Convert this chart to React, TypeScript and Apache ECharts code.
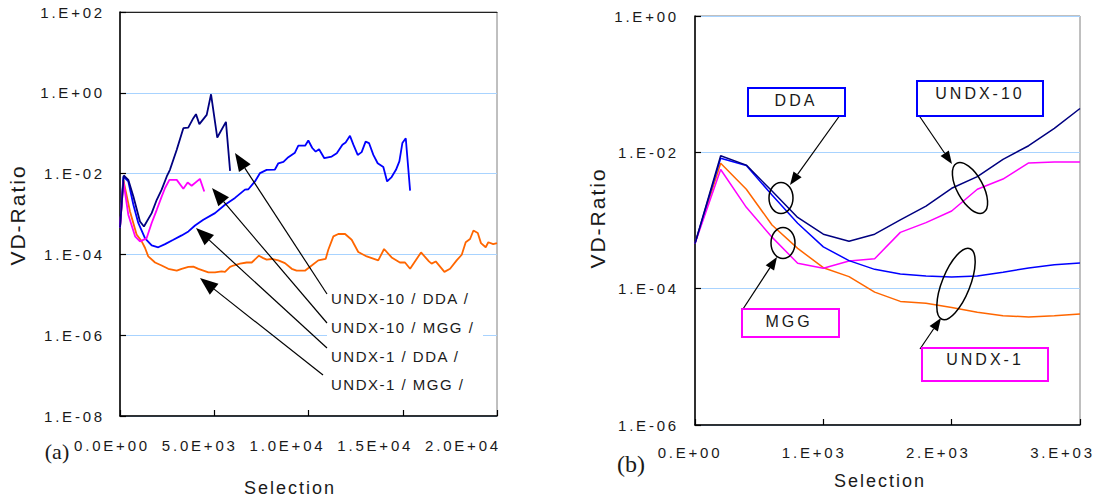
import React, { useEffect, useRef } from 'react';
import * as echarts from 'echarts';

// ---------- Panel (a) data: Selection vs VD-Ratio ----------
const aU10DdaX = [0, 200, 440, 710, 1060, 1270, 1680, 1950, 2210, 2480, 2650, 3010, 3360, 3620, 3890, 4030, 4210, 4600, 4830, 5160, 5620, 5840];
const aU10DdaY = [4.6e-4, 9.0e-3, 7.0e-3, 2.7e-3, 6.5e-4, 4.9e-4, 1.05e-3, 2.25e-3, 4.0e-3, 8.5e-3, 1.24e-2, 3.9e-2, 0.133, 0.137, 0.236, 0.296, 0.168, 0.284, 0.92, 0.078, 0.191, 1.17e-2];

const aU10MggX = [0, 180, 440, 800, 1060, 1410, 1680, 1950, 2210, 2390, 2620, 3010, 3360, 3590, 3800, 4240, 4470];
const aU10MggY = [4.6e-4, 6.4e-3, 9.6e-4, 2.8e-4, 2.1e-4, 2.5e-4, 6.0e-4, 1.27e-3, 2.7e-3, 4.4e-3, 7.0e-3, 7.0e-3, 4.2e-3, 6.0e-3, 5.0e-3, 7.4e-3, 3.6e-3];

const aU1DdaX = [0, 180, 440, 710, 970, 1330, 1680, 2030, 2390, 2830, 3270, 3630, 3980, 4420, 5040, 5570, 6100, 6630, 6810, 7160, 7430, 7780, 8220, 8400, 8670, 8930, 9280, 9460, 9820, 9990, 10200, 10380, 10560, 10840, 11230, 11500, 11800, 11970, 12200, 12380, 12610, 12820, 13030, 13210, 13440, 13670, 13970, 14170, 14410, 14640, 14820, 14980, 15160, 15390];
const aU1DdaY = [4.6e-4, 8.5e-3, 6.4e-3, 1.7e-3, 6.0e-4, 2.5e-4, 1.67e-4, 1.5e-4, 1.8e-4, 2.3e-4, 2.95e-4, 3.7e-4, 5.2e-4, 7.2e-4, 1.05e-3, 1.7e-3, 2.5e-3, 4.0e-3, 4.1e-3, 6.4e-3, 1.03e-2, 1.24e-2, 1.26e-2, 1.8e-2, 1.95e-2, 2.55e-2, 3.3e-2, 4.9e-2, 4.9e-2, 6.6e-2, 4.3e-2, 3.5e-2, 4.0e-2, 2.4e-2, 2.65e-2, 3.2e-2, 5.2e-2, 5.9e-2, 8.6e-2, 5.2e-2, 2.9e-2, 3.4e-2, 6.2e-2, 5.7e-2, 2.9e-2, 1.8e-2, 1.45e-2, 6.4e-3, 8.2e-3, 1.24e-2, 2.0e-2, 5.7e-2, 7.5e-2, 3.8e-3];

const aU1MggX = [0, 180, 530, 880, 1150, 1330, 1500, 1860, 2210, 2560, 3010, 3270, 3630, 3890, 4160, 4690, 5040, 5390, 5570, 5840, 6010, 6370, 6720, 6990, 7370, 7600, 7780, 8050, 8400, 8750, 9110, 9370, 9810, 10170, 10520, 10910, 11050, 11320, 11580, 11940, 12290, 12640, 13090, 13700, 14010, 14410, 14850, 15120, 15390, 15970, 16390, 16530, 16750, 17210, 17510, 17860, 18130, 18340, 18570, 18750, 18980, 19150, 19400, 19540, 19800, 20000];
const aU1MggY = [4.6e-4, 6.9e-3, 1.16e-3, 3.1e-4, 2.1e-4, 1.44e-4, 8.9e-5, 6.3e-5, 5.3e-5, 4.4e-5, 3.95e-5, 4.4e-5, 4.9e-5, 5.0e-5, 4.4e-5, 3.6e-5, 3.6e-5, 3.8e-5, 3.7e-5, 4.9e-5, 5.3e-5, 5.9e-5, 6.3e-5, 6.3e-5, 9.3e-5, 8.1e-5, 7.4e-5, 7.7e-5, 7.1e-5, 6.1e-5, 4.4e-5, 3.95e-5, 3.95e-5, 5.3e-5, 7.1e-5, 7.7e-5, 1.3e-4, 2.8e-4, 3.2e-4, 3.2e-4, 2.3e-4, 1.15e-4, 8.9e-5, 7.1e-5, 1.36e-4, 8.4e-5, 6.3e-5, 6.3e-5, 4.4e-5, 1.12e-4, 6.7e-5, 5.9e-5, 6.7e-5, 3.7e-5, 4.4e-5, 7.1e-5, 9.8e-5, 2.0e-4, 2.4e-4, 3.9e-4, 3.4e-4, 1.9e-4, 1.5e-4, 2.0e-4, 1.8e-4, 1.9e-4];

// ---------- Panel (b) data ----------
const bX = [0, 200, 400, 600, 800, 1000, 1200, 1400, 1600, 1800, 2000, 2200, 2400, 2600, 2800, 3000];
const bU10Dda = [4.6e-4, 8.9e-3, 6.5e-3, 2.7e-3, 1.11e-3, 6.3e-4, 4.95e-4, 6.3e-4, 1.02e-3, 1.63e-3, 2.97e-3, 4.4e-3, 7.9e-3, 1.25e-2, 2.25e-2, 4.4e-2];
const bU1Dda = [4.6e-4, 8.2e-3, 6.4e-3, 2.37e-3, 9.1e-4, 4.1e-4, 2.58e-4, 1.92e-4, 1.64e-4, 1.53e-4, 1.48e-4, 1.53e-4, 1.74e-4, 2.01e-4, 2.25e-4, 2.38e-4];
const bU10Mgg = [4.6e-4, 5.6e-3, 1.56e-3, 5.7e-4, 2.36e-4, 1.99e-4, 2.55e-4, 2.75e-4, 6.7e-4, 9.3e-4, 1.38e-3, 2.87e-3, 4.06e-3, 6.98e-3, 7.2e-3, 7.2e-3];
const bU1Mgg = [4.6e-4, 6.9e-3, 2.87e-3, 8.6e-4, 3.9e-4, 2.03e-4, 1.5e-4, 8.9e-5, 6.5e-5, 6.1e-5, 5.3e-5, 4.5e-5, 4.0e-5, 3.85e-5, 4.0e-5, 4.25e-5];

// ---------- Tick labels ----------
const xTicksA = ['0.0E+00', '5.0E+03', '1.0E+04', '1.5E+04', '2.0E+04'];
const xTickValsA = [0, 5000, 10000, 15000, 20000];
const xTicksB = ['0.E+00', '1.E+03', '2.E+03', '3.E+03'];
const xTickValsB = [0, 1000, 2000, 3000];
const yExpA = [-8, -6, -4, -2, 0, 2];
const yTicksA = ['1.E-08', '1.E-06', '1.E-04', '1.E-02', '1.E+00', '1.E+02'];
const yExpB = [-6, -4, -2, 0];
const yTicksB = ['1.E-06', '1.E-04', '1.E-02', '1.E+00'];

const annotA = ['UNDX-10 / DDA /', 'UNDX-10 / MGG /', 'UNDX-1 / DDA /', 'UNDX-1 / MGG /'];

const NAVY = '#000080';
const BLUE = '#0000ff';
const MAGENTA = '#ff00ff';
const ORANGE = '#ff6600';
const GRIDC = '#a8d3ff';
const TXT = '#1a1a1a';
const SANS = "'Liberation Sans', Arial, sans-serif";
const SERIF = "'Liberation Serif', 'Times New Roman', serif";

const pairs = (xs: number[], ys: number[]) => xs.map((x, i) => [x, Math.log10(ys[i])]);

function arrow(x1: number, y1: number, x2: number, y2: number, len: number, half: number) {
  const dx = x2 - x1, dy = y2 - y1;
  const L = Math.hypot(dx, dy);
  const ux = dx / L, uy = dy / L;
  const bx = x2 - ux * len, by = y2 - uy * len;
  const px = -uy, py = ux;
  return [
    { type: 'line', z: 20, silent: true, shape: { x1, y1, x2: bx, y2: by }, style: { stroke: '#000', lineWidth: 1.2 } },
    { type: 'polygon', z: 20, silent: true, shape: { points: [[x2, y2], [bx + px * half, by + py * half], [bx - px * half, by - py * half]] }, style: { fill: '#000' } },
  ];
}

function txt(text: string, x: number, y: number, size: number, align: string, opts: any = {}) {
  return {
    type: 'text', z: 30, silent: true, x, y, rotation: opts.rotation || 0,
    style: { text, x: 0, y: 0, align, verticalAlign: 'middle', fill: TXT, font: `${size}px ${opts.family || SANS}` },
  };
}

function box(x: number, y: number, w: number, h: number, color: string) {
  return { type: 'rect', z: 25, silent: true, shape: { x, y, width: w, height: h }, style: { fill: '#fff', stroke: color, lineWidth: 2 } };
}

function ell(cx: number, cy: number, rx: number, ry: number, rot: number) {
  return { type: 'ellipse', z: 25, silent: true, x: cx, y: cy, rotation: rot, shape: { cx: 0, cy: 0, rx, ry }, style: { fill: 'none', stroke: '#000', lineWidth: 1.5 } };
}

function spacingFor(s: string): number {
  if (s === '(a)' || s === '(b)') return 0;
  if (/^\d\.\d?E[+-]\d\d$/.test(s)) return 2.8;
  if (s === 'DDA' || s === 'MGG' || s === 'UNDX-10' || s === 'UNDX-1') return 3;
  if (s.indexOf('/') >= 0) return 1.5;
  return 2;
}

export default function App() {
  const ref = useRef<HTMLDivElement>(null);
  useEffect(() => {
    if (!ref.current) return;
    const chart = echarts.init(ref.current, undefined, { renderer: 'svg' });

    const axisLineBlack = { show: true, onZero: false, lineStyle: { color: '#000', width: 1.5 } };
    const tickInside = { show: true, inside: true, length: 6, lineStyle: { color: '#000', width: 1.2 } };
    const labelStyle = { color: TXT, fontSize: 15, fontFamily: SANS };

    const graphics: any[] = [
      // white backing behind panel (a) labels
      { type: 'rect', z: 5, silent: true, shape: { x: 327, y: 285, width: 156, height: 112 }, style: { fill: '#fff' } },
      txt(annotA[0], 331, 298, 15, 'left'),
      txt(annotA[1], 331, 327, 15, 'left'),
      txt(annotA[2], 331, 356, 15, 'left'),
      txt(annotA[3], 331, 384, 15, 'left'),
      ...arrow(327, 294, 235, 153, 18, 7),
      ...arrow(327, 323, 212, 188, 18, 7),
      ...arrow(327, 348, 196, 228, 18, 7),
      ...arrow(323, 375, 200, 278, 18, 7),
      // panel (b) annotations
      box(748, 88, 97, 28, BLUE),
      txt('DDA', 796, 100, 16, 'center'),
      box(917, 81, 126, 35, BLUE),
      txt('UNDX-10', 980, 93, 16, 'center'),
      box(742, 309, 97, 28, MAGENTA),
      txt('MGG', 789, 321, 16, 'center'),
      box(922, 348, 126, 33, MAGENTA),
      txt('UNDX-1', 985, 359, 16, 'center'),
      ell(781, 198, 12, 15.5, 0),
      ell(783, 243, 12, 15.5, 0),
      ell(970, 188, 13, 28, 0.5),
      ell(956, 284, 14, 38, -0.38),
      ...arrow(843, 111, 790, 185, 13, 5),
      ...arrow(918, 114, 952, 164, 13, 5),
      ...arrow(743, 309, 777, 257, 13, 5),
      ...arrow(920, 349, 941, 318, 13, 5),
      // axis names and panel tags
      txt('VD-Ratio', 17, 215, 21, 'center', { rotation: Math.PI / 2 }),
      txt('VD-Ratio', 597, 218, 21, 'center', { rotation: Math.PI / 2 }),
      txt('Selection', 290, 488, 18, 'center'),
      txt('Selection', 880, 481, 18, 'center'),
      txt('(a)', 57, 451, 22, 'center', { family: SERIF }),
      txt('(b)', 631, 464, 24, 'center', { family: SERIF }),
    ];

    const option: any = {
      animation: false,
      backgroundColor: '#ffffff',
      grid: [
        { left: 120, top: 12, width: 377, height: 404, show: true, borderColor: '#808080', borderWidth: 1 },
        { left: 695, top: 16, width: 385, height: 409, show: true, borderColor: '#808080', borderWidth: 1 },
        { left: 112, top: 12, width: 351, height: 404 },
        { left: 690, top: 16, width: 372.5, height: 409 },
      ],
      xAxis: [
        { gridIndex: 0, type: 'value', position: 'bottom', min: 0, max: 20000, interval: 5000, axisLine: axisLineBlack, axisTick: tickInside, axisLabel: { show: false }, splitLine: { show: false } },
        { gridIndex: 1, type: 'value', position: 'bottom', min: 0, max: 3000, interval: 1000, axisLine: axisLineBlack, axisTick: tickInside, axisLabel: { show: false }, splitLine: { show: false } },
        {
          gridIndex: 2, type: 'value', position: 'bottom', min: 0, max: 20000, interval: 5000, axisLine: { show: false, onZero: false }, axisTick: { show: false }, splitLine: { show: false },
          axisLabel: { ...labelStyle, margin: 22, formatter: (v: number) => xTicksA[xTickValsA.indexOf(Math.round(v))] || '' },
        },
        {
          gridIndex: 3, type: 'value', position: 'bottom', min: 0, max: 3000, interval: 1000, axisLine: { show: false, onZero: false }, axisTick: { show: false }, splitLine: { show: false },
          axisLabel: { ...labelStyle, margin: 20, formatter: (v: number) => xTicksB[xTickValsB.indexOf(Math.round(v))] || '' },
        },
        { gridIndex: 0, type: 'value', position: 'top', min: 0, max: 20000, interval: 5000, axisLine: { show: true, onZero: false, lineStyle: { color: '#222', width: 1.2 } }, axisTick: { show: false }, axisLabel: { show: false }, splitLine: { show: false } },
      ],
      yAxis: [
        {
          gridIndex: 0, type: 'value', position: 'left', min: -8, max: 2, interval: 2, axisLine: axisLineBlack, axisTick: tickInside,
          splitLine: { show: true, lineStyle: { color: GRIDC, width: 1 } },
          axisLabel: { ...labelStyle, margin: 15, formatter: (v: number) => yTicksA[yExpA.indexOf(Math.round(v))] || '' },
        },
        {
          gridIndex: 1, type: 'value', position: 'left', min: -6, max: 0, interval: 2, axisLine: axisLineBlack, axisTick: tickInside,
          splitLine: { show: true, lineStyle: { color: GRIDC, width: 1 } },
          axisLabel: { ...labelStyle, margin: 16, formatter: (v: number) => yTicksB[yExpB.indexOf(Math.round(v))] || '' },
        },
        { gridIndex: 2, type: 'value', min: 0, max: 1, show: false },
        { gridIndex: 3, type: 'value', min: 0, max: 1, show: false },
      ],
      series: [
        { name: 'UNDX-1 / MGG (a)', type: 'line', xAxisIndex: 0, yAxisIndex: 0, data: pairs(aU1MggX, aU1MggY), showSymbol: false, symbol: 'none', silent: true, lineStyle: { color: ORANGE, width: 1.8 }, itemStyle: { color: ORANGE } },
        { name: 'UNDX-1 / DDA (a)', type: 'line', xAxisIndex: 0, yAxisIndex: 0, data: pairs(aU1DdaX, aU1DdaY), showSymbol: false, symbol: 'none', silent: true, lineStyle: { color: BLUE, width: 1.8 }, itemStyle: { color: BLUE } },
        { name: 'UNDX-10 / MGG (a)', type: 'line', xAxisIndex: 0, yAxisIndex: 0, data: pairs(aU10MggX, aU10MggY), showSymbol: false, symbol: 'none', silent: true, lineStyle: { color: MAGENTA, width: 1.8 }, itemStyle: { color: MAGENTA } },
        { name: 'UNDX-10 / DDA (a)', type: 'line', xAxisIndex: 0, yAxisIndex: 0, data: pairs(aU10DdaX, aU10DdaY), showSymbol: false, symbol: 'none', silent: true, lineStyle: { color: NAVY, width: 1.8 }, itemStyle: { color: NAVY } },
        { name: 'UNDX-1 / MGG (b)', type: 'line', xAxisIndex: 1, yAxisIndex: 1, data: pairs(bX, bU1Mgg), showSymbol: false, symbol: 'none', silent: true, lineStyle: { color: ORANGE, width: 1.5 }, itemStyle: { color: ORANGE } },
        { name: 'UNDX-10 / MGG (b)', type: 'line', xAxisIndex: 1, yAxisIndex: 1, data: pairs(bX, bU10Mgg), showSymbol: false, symbol: 'none', silent: true, lineStyle: { color: MAGENTA, width: 1.5 }, itemStyle: { color: MAGENTA } },
        { name: 'UNDX-1 / DDA (b)', type: 'line', xAxisIndex: 1, yAxisIndex: 1, data: pairs(bX, bU1Dda), showSymbol: false, symbol: 'none', silent: true, lineStyle: { color: BLUE, width: 1.5 }, itemStyle: { color: BLUE } },
        { name: 'UNDX-10 / DDA (b)', type: 'line', xAxisIndex: 1, yAxisIndex: 1, data: pairs(bX, bU10Dda), showSymbol: false, symbol: 'none', silent: true, lineStyle: { color: NAVY, width: 1.5 }, itemStyle: { color: NAVY } },
      ],
      graphic: { elements: graphics },
    };

    chart.setOption(option);

    const applySpacing = () => {
      const root = ref.current;
      if (!root) return;
      root.querySelectorAll('text').forEach((t) => {
        const s = (t.textContent || '').trim();
        const ls = spacingFor(s);
        if (ls > 0) t.setAttribute('letter-spacing', `${ls}px`);
      });
    };
    applySpacing();
    chart.on('finished', applySpacing);

    return () => {
      chart.dispose();
    };
  }, []);

  return (
    <div
      ref={ref}
      style={{ position: 'fixed', left: 0, top: 0, width: 1120, height: 498, background: '#fff' }}
    />
  );
}
